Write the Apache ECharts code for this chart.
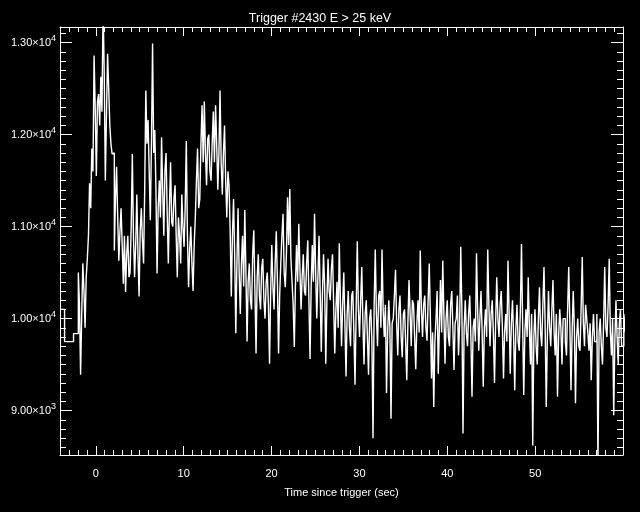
<!DOCTYPE html>
<html>
<head>
<meta charset="utf-8">
<script src="https://cdn.jsdelivr.net/npm/echarts@6/dist/echarts.min.js"></script>
<style>
html,body{margin:0;padding:0;background:#000;}
#chart{width:640px;height:512px;}
</style>
</head>
<body>
<div id="chart"></div>
<script>
// Pre-trigger (wide) bins: start times and count rates
const preTimes = [-4.07, -3.55, -2.53];
const preCounts = [10100, 9750, 9837];
// Fast bins after -1.984 s, 0.128 s each (8 per row ~ 1.024 s)
const fastStart = -1.984;
const fastBin = 0.128;
const fastCounts = [
10500, 10150, 9390, 10050, 10600, 10300, 9900, 10450,
10650, 10900, 11470, 11200, 11850, 11600, 12860, 12300,
11550, 12350, 12440, 12100, 12630, 12250, 13400, 12700,
11500, 12200, 12880, 12500, 12100, 11900, 11790, 11800,
10740, 11300, 11650, 11100, 10630, 10950, 11200, 10800,
10380, 10900, 10290, 10700, 10900, 10450, 10500, 11000,
11790, 10900, 10450, 10800, 11350, 10700, 10240, 10950,
11200, 10850, 10600, 11400, 12480, 11900, 12160, 11600,
11070, 11900, 12990, 11800, 12050, 11400, 10490, 11200,
11500, 11100, 11970, 11400, 10900, 11600, 11800, 11150,
10600, 11200, 11700, 11050, 11000, 11300, 11450, 10900,
10450, 11100, 10900, 10600, 11350, 11000, 10780, 11200,
11930, 10900, 10340, 10750, 11000, 10600, 10300, 10800,
11100, 11500, 11850, 11200, 11300, 11900, 12320, 11700,
12360, 11800, 11450, 11950, 12000, 11600, 11500, 11900,
12250, 11700, 12320, 11900, 11400, 11800, 12480, 11700,
11350, 11800, 12100, 11500, 11100, 11600, 11450, 10950,
10240, 10900, 11300, 10700, 9840, 10600, 11200, 10500,
10050, 10600, 10900, 10350, 11180, 10500, 9750, 10400,
10600, 10200, 10100, 10700, 10960, 10300, 9620, 10450,
10700, 10250, 10100, 10550, 10650, 10200, 10000, 10400,
10500, 10150, 9510, 10300, 10800, 10350, 10100, 10600,
10950, 10400, 9620, 10250, 10600, 10900, 11140, 10500,
10340, 10700, 11320, 10800, 11410, 10650, 10400, 10150,
9690, 10350, 10800, 10400, 11030, 10550, 10100, 10450,
10700, 10300, 10250, 10600, 10850, 10200, 9560, 10350,
10800, 10400, 11140, 10500, 10000, 10450, 10900, 10300,
9640, 10250, 10700, 10350, 9510, 10200, 10650, 10300,
10200, 10550, 10700, 10150, 9620, 10100, 10400, 9900,
10820, 10200, 9700, 10150, 10500, 9950, 9370, 10050,
10300, 9900, 9700, 10250, 10300, 9850, 9280, 10100,
10840, 10100, 9800, 10200, 10560, 9950, 9500, 10050,
10200, 9800, 9390, 10000, 10100, 9750, 8700, 10150,
10750, 10050, 9700, 10250, 10300, 9900, 10750, 10100,
9800, 10150, 9190, 9850, 10200, 9900, 8910, 9950,
10000, 10250, 10530, 9950, 9600, 10100, 10250, 9800,
9580, 10050, 10100, 9750, 9330, 9950, 10420, 10050,
9700, 10200, 10150, 9800, 9450, 9950, 10200, 9850,
10740, 10100, 9800, 10150, 10250, 9900, 9760, 10200,
10600, 10000, 9350, 9850, 9040, 9750, 10000, 10300,
9400, 9900, 10420, 9850, 10630, 10050, 9510, 10000,
10200, 9800, 9700, 10150, 10300, 9900, 9440, 9950,
10000, 10250, 9600, 9950, 10780, 10100, 8750, 9900,
10200, 9850, 9700, 10050, 10250, 9800, 9150, 9900,
10000, 9750, 10710, 10100, 9650, 10000, 10300, 9850,
9260, 9900, 10100, 9800, 10750, 10150, 9700, 10050,
10200, 9850, 9300, 9950, 10450, 10000, 9800, 10150,
10300, 9900, 9350, 9850, 10050, 9750, 10630, 10050,
9400, 9950, 10200, 9800, 9220, 9900, 10150, 9750,
9650, 10100, 10810, 9950, 9170, 9850, 10100, 9800,
10450, 9900, 9500, 10050, 8620, 9800, 10100, 9700,
9500, 10000, 10340, 9850, 9700, 10150, 10560, 9950,
9040, 9800, 10300, 9900, 9700, 10100, 10420, 9850,
9600, 10050, 9150, 9800, 10100, 9900, 9500, 10000,
10000, 9750, 9600, 10100, 10560, 9950, 9220, 9850,
10300, 9900, 9080, 9800, 10000, 9700, 9650, 10100,
10670, 9950, 9700, 10150, 10000, 9850, 9650, 9950,
9330, 9800, 10050, 9750, 9750, 10050, 8400, 9850,
10000, 9700, 9500, 9950, 10560, 9900, 9800, 10150,
10650, 9850, 9600, 10000, 8950, 9750, 10200, 9800,
9500, 9950, 10100, 9700, 9700, 10050, 9900, 9800
];
const titleText = 'Trigger #2430 E > 25 keV';
const xName = 'Time since trigger (sec)';
const yName = 'Counts/sec';
const xRange = [-4.07, 60];
const yRange = [8517, 13170];

const series = [];
for (let i = 0; i < preTimes.length; i++) series.push([preTimes[i], preCounts[i]]);
for (let i = 0; i < fastCounts.length; i++) series.push([+(fastStart + i * fastBin).toFixed(3), fastCounts[i]]);
series.push([+(fastStart + fastCounts.length * fastBin).toFixed(3), fastCounts[fastCounts.length - 1]]);

const FONT = 'Liberation Sans';
const white = '#ffffff';

function yFmt(v) {
  const e = Math.floor(Math.log10(v) + 1e-9);
  const m = (v / Math.pow(10, e)).toFixed(2);
  return '{m|' + m + '×10}{e|' + e + '}';
}

const chart = echarts.init(document.getElementById('chart'), null, {renderer: 'canvas'});
chart.setOption({
  backgroundColor: '#000',
  animation: false,
  title: {
    text: titleText, left: 'center', top: 7,
    textStyle: {color: white, fontFamily: FONT, fontSize: 12.5, fontWeight: 'normal'}
  },
  grid: {left: 60, right: 17, top: 27, bottom: 57, containLabel: false, outerBoundsMode: 'none'},
  xAxis: [{
    type: 'value', position: 'bottom', min: xRange[0], max: xRange[1], splitNumber: 6,
    name: xName, nameLocation: 'middle', nameGap: 32,
    nameTextStyle: {color: white, fontFamily: FONT, fontSize: 11},
    axisLine: {show: true, onZero: false, lineStyle: {color: white, width: 1}},
    axisTick: {show: true, inside: true, length: 9, lineStyle: {color: white}},
    minorTick: {show: true, splitNumber: 10, length: 5, lineStyle: {color: white}},
    axisLabel: {show: true, color: white, fontFamily: FONT, fontSize: 11, margin: 13, showMinLabel: false, showMaxLabel: false,
      formatter: v => (Math.abs(v % 10) < 1e-6 && v < 60 ? String(v) : '')},
    splitLine: {show: false}, minorSplitLine: {show: false}
  }, {
    type: 'value', position: 'top', min: xRange[0], max: xRange[1], splitNumber: 6,
    axisLine: {show: true, onZero: false, lineStyle: {color: white, width: 1}},
    axisTick: {show: true, inside: true, length: 9, lineStyle: {color: white}},
    minorTick: {show: true, splitNumber: 10, length: 5, lineStyle: {color: white}},
    axisLabel: {show: false}, splitLine: {show: false}
  }],
  yAxis: [{
    type: 'value', position: 'left', min: yRange[0], max: yRange[1], splitNumber: 5,
    name: yName, nameLocation: 'middle', nameGap: 53, nameRotate: 90,
    nameTextStyle: {color: white, fontFamily: FONT, fontSize: 11},
    axisLine: {show: true, onZero: false, lineStyle: {color: white, width: 1}},
    axisTick: {show: true, inside: true, length: 12, lineStyle: {color: white}},
    minorTick: {show: true, splitNumber: 10, length: 6, lineStyle: {color: white}},
    axisLabel: {show: true, margin: 4, showMinLabel: false, showMaxLabel: false,
      formatter: v => (Math.abs(v % 1000) < 1e-6 ? yFmt(v) : ''),
      rich: {
        m: {color: white, fontFamily: FONT, fontSize: 11},
        e: {color: white, fontFamily: FONT, fontSize: 9, padding: [0, 0, 9, 0]}
      }},
    splitLine: {show: false}, minorSplitLine: {show: false}
  }, {
    type: 'value', position: 'right', min: yRange[0], max: yRange[1], splitNumber: 5,
    axisLine: {show: true, onZero: false, lineStyle: {color: white, width: 1}},
    axisTick: {show: true, inside: true, length: 12, lineStyle: {color: white}},
    minorTick: {show: true, splitNumber: 10, length: 6, lineStyle: {color: white}},
    axisLabel: {show: false}, splitLine: {show: false}
  }],
  series: [{
    type: 'line', xAxisIndex: 0, yAxisIndex: 0, step: 'end', data: series,
    symbol: 'none', showSymbol: false, clip: true,
    lineStyle: {color: white, width: 1.4}, itemStyle: {color: white}
  }]
});
</script>
</body>
</html>
